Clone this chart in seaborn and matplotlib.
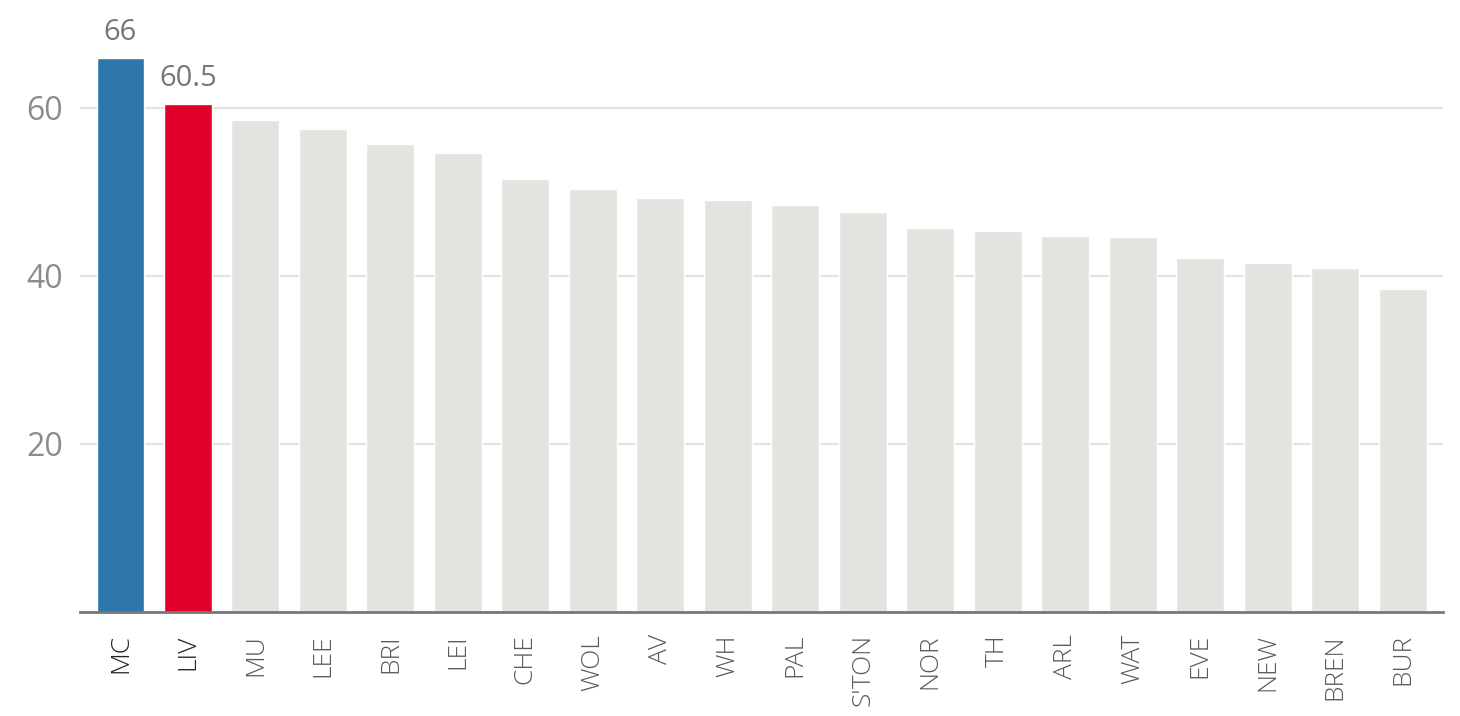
import pandas as pd
import matplotlib.pyplot as plt
import seaborn as sns

# values
teams = ["MC", "LIV", "MU", "LEE", "BRI", "LEI", "CHE", "WOL", "AV", "WH",
         "PAL", "S'TON", "NOR", "TH", "ARL", "WAT", "EVE", "NEW", "BREN", "BUR"]
values = [66, 60.5, 58.6, 57.5, 55.7, 54.6, 51.5, 50.4, 49.3, 49.0,
          48.5, 47.6, 45.7, 45.4, 44.8, 44.6, 42.1, 41.5, 41.0, 38.5]
highlight = {"MC": "#2e77ab", "LIV": "#e0002b"}
labelled = ["MC", "LIV"]
y_ticks = [20, 40, 60]

df = pd.DataFrame({"team": teams, "value": values})
palette = {t: highlight.get(t, "#e4e3df") for t in teams}

sns.set_style("white")
plt.rcParams["font.family"] = ["Open Sans", "DejaVu Sans"]

fig = plt.figure(figsize=(14.6, 7.16), dpi=100)
ax = fig.add_axes([0.0548, 0.1453, 0.9336, 0.7743])

sns.barplot(data=df, x="team", y="value", hue="team", palette=palette,
            width=0.71, legend=False, ax=ax, saturation=1)

ax.set_xlim(-0.6, len(teams) - 0.4)
ax.set_ylim(0, 66)
ax.set_yticks(y_ticks)
ax.yaxis.grid(True, color="#e2e2e2", linewidth=1.5)
ax.set_axisbelow(True)
ax.set_xlabel("")
ax.set_ylabel("")

for side in ["top", "right", "left"]:
    ax.spines[side].set_visible(False)
ax.spines["bottom"].set_color("#777777")
ax.spines["bottom"].set_linewidth(2)

ax.tick_params(axis="y", length=0, pad=12, labelsize=23, labelcolor="#8c8c8c")
ax.tick_params(axis="x", length=0, pad=16, labelsize=19, labelcolor="#5a5a5a")
for lab in ax.get_xticklabels():
    lab.set_rotation(90)
    lab.set_va("top")
    lab.set_fontweight("light")
    if lab.get_text() in labelled:
        lab.set_color("#222222")

for i, t in enumerate(teams):
    if t in labelled:
        v = values[i]
        txt = f"{v:g}"
        ax.text(i, v + 1.3, txt, ha="center", va="bottom", fontsize=21,
                color="#777777", clip_on=False)

fig.savefig("out.png", dpi=100)
